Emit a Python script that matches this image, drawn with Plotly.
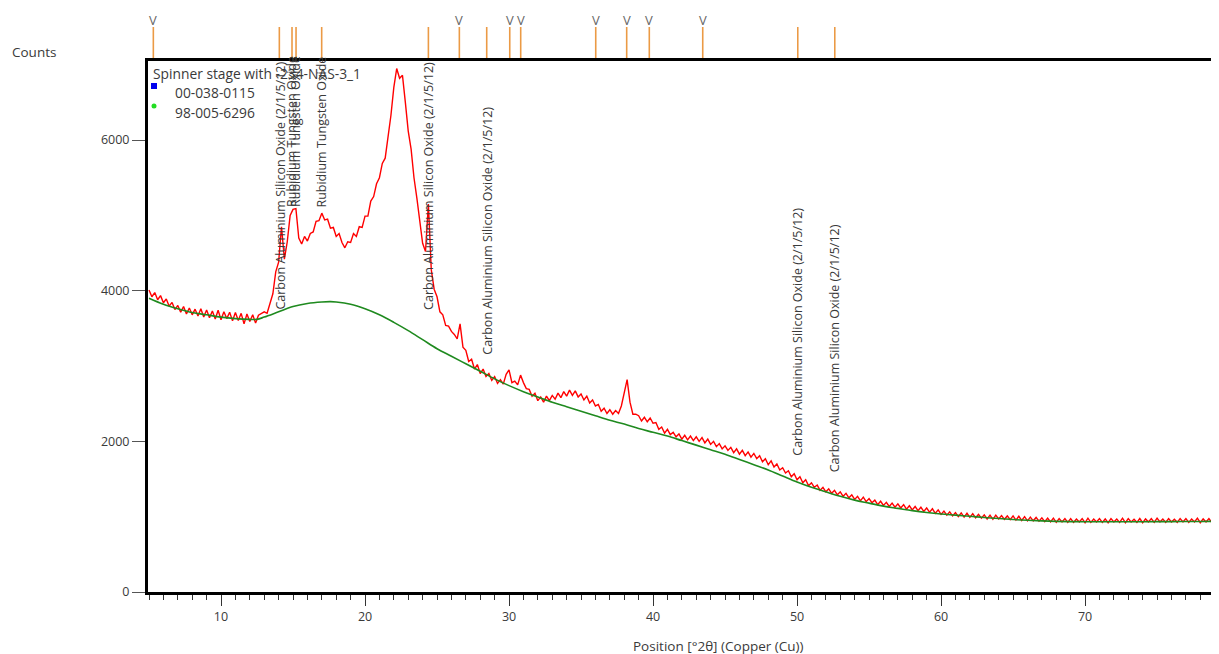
import plotly.graph_objects as go

# ---------------- data ----------------
scan_start = 5.0
scan_step = 0.2
scan_counts = [
    4010, 3920, 3975, 3880, 3935, 3840, 3890, 3795, 3845, 3750,   # 5.0 - 6.8
    3805, 3715, 3790, 3690, 3770, 3680, 3755, 3665, 3760, 3650,   # 7.0 - 8.8
    3745, 3640, 3730, 3625, 3740, 3615, 3720, 3630, 3715, 3600,   # 9.0 - 10.8
    3710, 3605, 3700, 3560, 3690, 3590, 3680, 3570, 3675, 3700,   # 11.0 - 12.8
    3720, 3700, 3850, 3960, 4250, 4380, 4850, 4420, 4650, 5000,   # 13.0 - 14.8
    5080, 5090, 4700, 4620, 4720, 4660, 4760, 4780, 4920, 4930,   # 15.0 - 16.8
    5030, 4940, 4950, 4830, 4840, 4720, 4760, 4640, 4570, 4650,   # 17.0 - 18.8
    4640, 4760, 4720, 4850, 4840, 4990, 4990, 5190, 5250, 5420,   # 19.0 - 20.8
    5500, 5690, 5760, 6050, 6330, 6700, 6950, 6820, 6860, 6500,   # 21.0 - 22.8
    6120, 5880, 5500, 5230, 4900, 4630, 4520, 5150, 4280, 4020,   # 23.0 - 24.8
    3920, 3720, 3680, 3540, 3530, 3460, 3420, 3360, 3560, 3250,   # 25.0 - 26.8
    3210, 3060, 3090, 2960, 3020, 2900, 2960, 2860, 2900, 2810,   # 27.0 - 28.8
    2860, 2770, 2820, 2760, 2890, 2950, 2780, 2800, 2750, 2880,   # 29.0 - 30.8
    2780, 2700, 2690, 2600, 2640, 2540, 2590, 2520, 2600, 2540,   # 31.0 - 32.8
    2610, 2560, 2640, 2580, 2660, 2600, 2680, 2610, 2670, 2590,   # 33.0 - 34.8
    2630, 2550, 2600, 2510, 2550, 2470, 2490, 2400, 2440, 2370,   # 35.0 - 36.8
    2420, 2360, 2410, 2370, 2470, 2640, 2820, 2520, 2360, 2360,   # 37.0 - 38.8
    2340, 2270, 2320, 2260, 2310, 2240, 2250, 2160, 2190, 2110,   # 39.0 - 40.8
    2160, 2090, 2120, 2060, 2100, 2030, 2080, 2020, 2070, 2010,   # 41.0 - 42.8
    2060, 2000, 2050, 1980, 2030, 1960, 2000, 1930, 1970, 1900,   # 43.0 - 44.8
    1940, 1880, 1920, 1850, 1900, 1830, 1880, 1810, 1860, 1790,   # 45.0 - 46.8
    1840, 1770, 1810, 1730, 1770, 1690, 1740, 1660, 1700, 1620,   # 47.0 - 48.8
    1650, 1580, 1610, 1530, 1570, 1490, 1530, 1450, 1490, 1410,   # 49.0 - 50.8
    1450, 1390, 1420, 1350, 1390, 1330, 1370, 1310, 1350, 1290,   # 51.0 - 52.8
    1330, 1270, 1310, 1250, 1290, 1230, 1270, 1210, 1260, 1200,   # 53.0 - 54.8
    1240, 1185, 1220, 1160, 1205, 1150, 1190, 1135, 1180, 1125,   # 55.0 - 56.8
    1170, 1115, 1160, 1100, 1145, 1090, 1135, 1080, 1125, 1070,   # 57.0 - 58.8
    1115, 1060, 1105, 1045, 1090, 1030, 1075, 1020, 1065, 1010,   # 59.0 - 60.8
    1055, 1000, 1050, 995, 1045, 990, 1040, 985, 1030, 980,       # 61.0 - 62.8
    1025, 970, 1020, 965, 1020, 970, 1015, 965, 1010, 960,        # 63.0 - 64.8
    1010, 955, 1005, 950, 1000, 945, 995, 945, 990, 940,          # 65.0 - 66.8
    985, 935, 980, 930, 980, 925, 975, 930, 975, 925,             # 67.0 - 68.8
    975, 925, 970, 930, 975, 920, 980, 925, 970, 930,             # 69.0 - 70.8
    975, 925, 970, 920, 975, 930, 970, 925, 980, 920,             # 71.0 - 72.8
    975, 930, 965, 925, 975, 920, 970, 930, 975, 925,             # 73.0 - 74.8
    980, 930, 970, 925, 975, 930, 965, 925, 975, 930,             # 75.0 - 76.8
    975, 925, 970, 930, 980, 920, 970, 930, 975, 925,             # 77.0 - 78.8
    970, 930,                                                     # 79.0 - 79.2
]
scan_pos = [round(scan_start + scan_step * i, 2) for i in range(len(scan_counts))]

bg_pos = [5, 6, 7, 8, 9, 10, 11, 12, 12.5, 13, 14, 15, 16, 17, 17.6, 18, 19, 20,
          21, 22, 23, 24, 25, 26, 27, 28, 29, 30, 31, 32, 33, 34, 35, 36, 37, 38,
          39, 40, 41, 42, 43, 44, 45, 46, 47, 48, 49, 50, 51, 52, 53, 54, 55, 56,
          57, 58, 59, 60, 61, 62, 63, 64, 65, 66, 67, 68, 69, 70, 72, 74, 76, 78, 79.3]
bg_counts = [3900, 3820, 3760, 3710, 3680, 3650, 3630, 3620, 3620, 3650, 3720, 3790,
             3830, 3850, 3855, 3850, 3820, 3760, 3680, 3580, 3470, 3350, 3230, 3130,
             3030, 2930, 2830, 2740, 2660, 2590, 2520, 2460, 2400, 2340, 2280, 2230,
             2170, 2120, 2070, 2010, 1950, 1890, 1830, 1760, 1690, 1620, 1540, 1460,
             1390, 1330, 1270, 1220, 1180, 1140, 1110, 1080, 1055, 1035, 1020, 1005,
             990, 975, 962, 952, 944, 938, 935, 933, 932, 933, 935, 937, 938]

peak_positions = [5.30, 14.05, 14.93, 15.21, 16.99, 24.40, 26.55, 28.45, 30.05,
                  30.81, 36.02, 38.17, 39.74, 43.45, 50.05, 52.62]
peak_marked = [True, False, False, False, False, False, True, False, True,
               True, True, True, True, True, False, False]

label_texts = ["Carbon Aluminium Silicon Oxide (2/1/5/12)",
               "Rubidium Tungsten Oxide",
               "Rubidium Tungsten Oxide",
               "Rubidium Tungsten Oxide",
               "Carbon Aluminium Silicon Oxide (2/1/5/12)",
               "Carbon Aluminium Silicon Oxide (2/1/5/12)",
               "Carbon Aluminium Silicon Oxide (2/1/5/12)",
               "Carbon Aluminium Silicon Oxide (2/1/5/12)"]
label_pos = [14.15, 14.93, 15.21, 16.99, 24.45, 28.45, 50.05, 52.62]
label_base = [3720, 5080, 5080, 5080, 3720, 3120, 1780, 1560]

sample_name = "Spinner stage with -234-NAS-3_1"
ref_names = ["00-038-0115", "98-005-6296"]
ref_colors = ["#0000ee", "#22dd22"]

x_ticks = [10, 20, 30, 40, 50, 60, 70]
y_ticks = [0, 2000, 4000, 6000]

# ---------------- figure ----------------
FONT = "Open Sans, Segoe UI, DejaVu Sans, sans-serif"
TXT = "#3a3a3a"
OFF = 8                      # page body margin of the html file
W, H = 1219 - OFF, 654 - OFF
ML, MR, MT, MB = 148 - OFF, 0, 61 - OFF, 62
PW, PH = W - ML - MR, H - MT - MB


def px2paper_x(px):
    """window pixel x -> plot-area (paper) fraction"""
    return (px - OFF - ML) / PW


def px2paper_y(py):
    """window pixel y -> plot-area (paper) fraction"""
    return (H - MB - (py - OFF)) / PH


fig = go.Figure()
fig.add_trace(go.Scatter(x=scan_pos, y=scan_counts, mode="lines",
                         line=dict(color="#ff0000", width=1.4),
                         showlegend=False, hoverinfo="skip"))
fig.add_trace(go.Scatter(x=bg_pos, y=bg_counts, mode="lines",
                         line=dict(color="#1f8a1f", width=1.6, shape="spline"),
                         showlegend=False, hoverinfo="skip"))

shapes = []
annotations = []

# stick marks above plot
top = px2paper_y(27)
for p, m in zip(peak_positions, peak_marked):
    shapes.append(dict(type="line", xref="x", yref="paper", x0=p, x1=p, y0=1.0, y1=top,
                       line=dict(color="#eb9a45", width=1.6), layer="below"))
    if m:
        annotations.append(dict(x=p, y=top, xref="x", yref="paper", text="V",
                                showarrow=False, xanchor="center", yanchor="bottom",
                                yshift=-4,
                                font=dict(family=FONT, size=13, color="#666666")))

# rotated phase labels
for t, p, b in zip(label_texts, label_pos, label_base):
    annotations.append(dict(x=p, y=b, xref="x", yref="y", text=t, textangle=-90,
                            showarrow=False, xanchor="center", yanchor="bottom",
                            font=dict(family=FONT, size=12.5, color=TXT)))

# legend-ish text
annotations.append(dict(x=px2paper_x(151), y=px2paper_y(73), xref="paper", yref="paper",
                        text=sample_name, showarrow=False, xanchor="left", yanchor="middle",
                        font=dict(family=FONT, size=13.8, color=TXT)))
for i, (nm, col) in enumerate(zip(ref_names, ref_colors)):
    yy = 92 + 20 * i
    annotations.append(dict(x=px2paper_x(173), y=px2paper_y(yy), xref="paper", yref="paper",
                            text=nm, showarrow=False, xanchor="left", yanchor="middle",
                            font=dict(family=FONT, size=13.8, color=TXT)))
    cy = 86 + 20 * i
    if i == 0:
        shapes.append(dict(type="rect", xref="paper", yref="paper",
                           x0=px2paper_x(151), x1=px2paper_x(157),
                           y0=px2paper_y(cy + 3), y1=px2paper_y(cy - 3),
                           fillcolor=col, line=dict(width=0)))
    else:
        shapes.append(dict(type="circle", xref="paper", yref="paper",
                           x0=px2paper_x(151.5), x1=px2paper_x(156.5),
                           y0=px2paper_y(cy + 2.5), y1=px2paper_y(cy - 2.5),
                           fillcolor=col, line=dict(width=0)))

# axis titles
annotations.append(dict(x=px2paper_x(10), y=px2paper_y(52), xref="paper", yref="paper",
                        text="Counts", showarrow=False, xanchor="left", yanchor="middle",
                        font=dict(family=FONT, size=13.5, color=TXT)))
annotations.append(dict(x=px2paper_x(718), y=px2paper_y(646),
                        xref="paper", yref="paper",
                        text="Position [°2θ] (Copper (Cu))", showarrow=False,
                        xanchor="center", yanchor="middle",
                        font=dict(family=FONT, size=13.5, color=TXT)))

fig.update_layout(
    width=W, height=H, autosize=False,
    margin=dict(l=ML, r=MR, t=MT, b=MB, pad=0),
    paper_bgcolor="white", plot_bgcolor="white",
    shapes=shapes, annotations=annotations,
    font=dict(family=FONT, size=12, color=TXT),
    xaxis=dict(range=[4.93, 79.3], tickvals=x_ticks, ticks="outside", ticklen=11,
               tickwidth=1.3, tickcolor="#333333", showgrid=False, zeroline=False,
               showline=True, linecolor="black", linewidth=3, mirror=True,
               tickfont=dict(family=FONT, size=12.5, color=TXT),
               minor=dict(dtick=1, tick0=0, ticks="outside", ticklen=5,
                          tickwidth=1.3, tickcolor="#333333", showgrid=False)),
    yaxis=dict(range=[0, 7050], tickvals=y_ticks, ticks="outside", ticklen=13,
               tickwidth=1.3, tickcolor="#555555", showgrid=False, zeroline=False,
               showline=True, linecolor="black", linewidth=3, mirror=False,
               tickfont=dict(family=FONT, size=12.5, color=TXT)),
)

fig.write_html("out.html")
